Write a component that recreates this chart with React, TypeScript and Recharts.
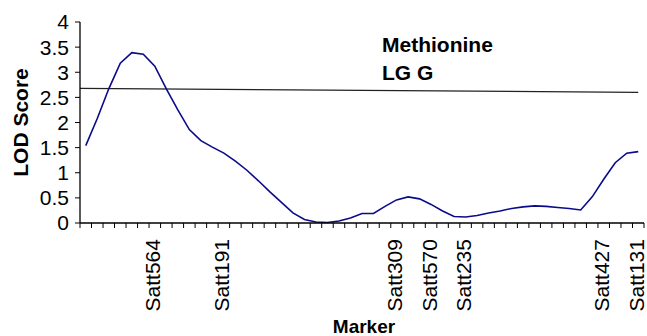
import React from "react";
import {
  LineChart,
  Line,
  XAxis,
  YAxis,
  ReferenceLine,
  Label,
} from "recharts";

// LOD score at each marker-interval position (49 positions along LG G)
const LOD = [
  1.54, 2.08, 2.67, 3.18, 3.39, 3.36, 3.12, 2.67, 2.25, 1.86,
  1.64, 1.51, 1.39, 1.23, 1.05, 0.84, 0.62, 0.41, 0.2, 0.07,
  0.02, 0.01, 0.04, 0.1, 0.19, 0.19, 0.33, 0.46, 0.52, 0.48,
  0.37, 0.24, 0.13, 0.12, 0.15, 0.2, 0.24, 0.29, 0.32, 0.34,
  0.33, 0.31, 0.29, 0.26, 0.52, 0.87, 1.2, 1.39, 1.42,
];

const MARKER_POS = [6, 12, 27, 30, 33, 45, 48];
const MARKER_NAMES = ["Satt564", "Satt191", "Satt309", "Satt570", "Satt235", "Satt427", "Satt131"];

const Y_TICKS = [0, 0.5, 1, 1.5, 2, 2.5, 3, 3.5, 4];

// significance threshold, drawn slightly sloped as in the original
const THRESHOLD_START = 2.68;
const THRESHOLD_END = 2.6;

const data = LOD.map((lod, i) => ({ pos: i, lod }));

// tick marks sit between positions, labels on the marker positions
const tickMarks = LOD.map((_, i) => i - 0.5).concat([LOD.length - 0.5]);
const xTicks = [...tickMarks, ...MARKER_POS];

const FONT = "'Liberation Sans', Arial, sans-serif";

const XTick = (props: any) => {
  const { x, y, payload } = props;
  const idx = MARKER_POS.indexOf(payload.value);
  if (idx < 0) {
    return <line x1={x} x2={x} y1={y} y2={y + 5} stroke="#000" strokeWidth={1} />;
  }
  const tx = x - 2;
  const ty = y + 16;
  return (
    <text
      x={tx}
      y={ty}
      transform={`rotate(-90, ${tx}, ${ty})`}
      textAnchor="end"
      dominantBaseline="central"
      fontSize={21}
      fill="#000"
      fontFamily={FONT}
    >
      {MARKER_NAMES[idx]}
    </text>
  );
};

const YTitle = (props: any) => {
  const vb = props.viewBox;
  const cx = vb.x + 20;
  const cy = vb.y + vb.height / 2;
  return (
    <text
      x={cx}
      y={cy}
      transform={`rotate(-90, ${cx}, ${cy})`}
      textAnchor="middle"
      dominantBaseline="central"
      fontSize={21}
      fontWeight="bold"
      fill="#000"
      fontFamily={FONT}
    >
      LOD Score
    </text>
  );
};

const XTitle = (props: any) => {
  const vb = props.viewBox;
  return (
    <text
      x={vb.x + vb.width / 2 + 2}
      y={vb.y + vb.height - 3}
      textAnchor="middle"
      fontSize={19}
      fontWeight="bold"
      fill="#000"
      fontFamily={FONT}
    >
      Marker
    </text>
  );
};

export default function App() {
  return (
    <div style={{ position: "absolute", left: 0, top: 0, width: 647, height: 336, background: "#fff", fontFamily: FONT }}>
      <LineChart
        width={647}
        height={336}
        data={data}
        margin={{ top: 22, right: 3, bottom: 0, left: 0 }}
      >
        <XAxis
          dataKey="pos"
          type="number"
          domain={[-0.5, LOD.length - 0.5]}
          ticks={xTicks}
          interval={0}
          tickSize={0}
          tickMargin={0}
          tickLine={false}
          tick={<XTick />}
          height={113}
          axisLine={{ stroke: "#000", strokeWidth: 1.3 }}
        >
          <Label content={<XTitle />} />
        </XAxis>
        <YAxis
          domain={[0, 4]}
          ticks={Y_TICKS}
          interval={0}
          width={80}
          tickSize={5}
          tickMargin={6}
          tick={{ fontSize: 21, fill: "#000", fontFamily: FONT }}
          tickLine={{ stroke: "#000" }}
          axisLine={{ stroke: "#000", strokeWidth: 1.3 }}
        >
          <Label content={<YTitle />} />
        </YAxis>
        <ReferenceLine
          segment={[
            { x: -0.5, y: THRESHOLD_START },
            { x: LOD.length - 1, y: THRESHOLD_END },
          ]}
          stroke="#222"
          strokeWidth={1.2}
        />
        <Line
          dataKey="lod"
          type="linear"
          stroke="#0a0a8a"
          strokeWidth={1.6}
          dot={false}
          isAnimationActive={false}
        />
      </LineChart>
      <svg
        width={647}
        height={336}
        style={{ position: "absolute", left: 0, top: 0, pointerEvents: "none" }}
      >
        <text x={382} y={52} fontSize={21} fontWeight="bold" fill="#000" fontFamily={FONT}>
          Methionine
        </text>
        <text x={382} y={80} fontSize={21} fontWeight="bold" fill="#000" fontFamily={FONT}>
          LG G
        </text>
      </svg>
    </div>
  );
}
